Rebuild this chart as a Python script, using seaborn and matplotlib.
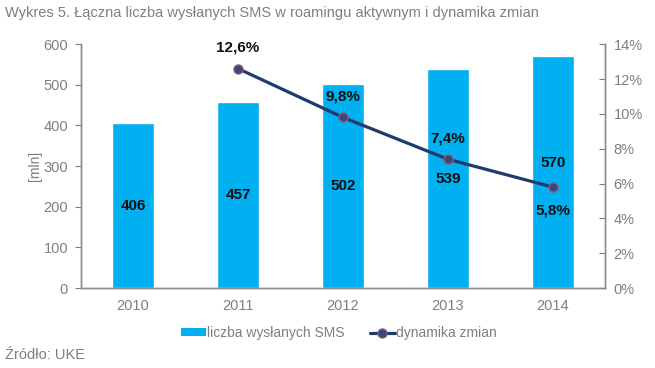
import matplotlib

matplotlib.use("Agg")
import matplotlib.pyplot as plt
import seaborn as sns
from matplotlib.lines import Line2D
from matplotlib.patches import Patch
from matplotlib.ticker import FuncFormatter, MultipleLocator

# dane z wykresu
years = ["2010", "2011", "2012", "2013", "2014"]
sms_mln = [406, 457, 502, 539, 570]
dyn_years = ["2011", "2012", "2013", "2014"]
dyn_pct = [12.6, 9.8, 7.4, 5.8]

BAR = "#00B0F0"
LINE = "#1F3A6E"
GREY = "#7F7F7F"

sns.set_style("white")
plt.rcParams["font.family"] = ["Liberation Sans", "DejaVu Sans"]

fig = plt.figure(figsize=(6.55, 3.68), dpi=100)
ax = fig.add_axes([0.123, 0.217, 0.801, 0.663])

sns.barplot(x=years, y=sms_mln, color=BAR, width=0.4, saturation=1, ax=ax)
ax.set_ylim(0, 600)
ax.set_xlim(-0.5, 4.5)
ax.yaxis.set_major_locator(MultipleLocator(100))
ax.set_ylabel("[mln]", color=GREY, fontsize=10, labelpad=1)
ax.set_xlabel("")

ax2 = ax.twinx()
xpos = [years.index(y) for y in dyn_years]
sns.lineplot(x=xpos, y=dyn_pct, color=LINE, linewidth=2.3, ax=ax2, zorder=3)
ax2.plot(xpos, dyn_pct, linestyle="none", marker="o", markersize=6.5,
         markerfacecolor="#2F4B80", markeredgecolor="#A0506A", markeredgewidth=1.0, zorder=4)
ax2.set_ylim(0, 14)
ax2.set_xlim(-0.5, 4.5)
ax2.yaxis.set_major_locator(MultipleLocator(2))
ax2.yaxis.set_major_formatter(FuncFormatter(lambda v, _: f"{v:.0f}%"))

for a in (ax, ax2):
    a.spines["top"].set_visible(False)
    for s in ("left", "right", "bottom"):
        a.spines[s].set_color("#8C8C8C")
        a.spines[s].set_linewidth(1.0)
    a.tick_params(colors=GREY, labelsize=10.5, length=4, width=0.8, labelcolor=GREY)

ax.tick_params(axis="y", direction="out", pad=5)
ax2.tick_params(axis="y", direction="in", pad=6)
ax.set_xticks([i for i in range(len(years))])
ax.set_xticklabels(years)
ax.tick_params(axis="x", length=0, pad=8)
# ticks on category boundaries
ax.set_xticks([i + 0.5 for i in range(-1, len(years))], minor=True)
ax.tick_params(axis="x", which="minor", length=4, color="#8C8C8C", direction="out")

# etykiety słupków
for i, v in enumerate(sms_mln):
    y = v / 2 + (22 if v == max(sms_mln) else 0)
    ax.text(i, y, f"{v}", ha="center", va="center", fontsize=11, fontweight="bold", color="#111111")

# etykiety linii
for x, v in zip(xpos, dyn_pct):
    below = v == dyn_pct[-1]
    off = -1.35 if below else 1.2
    ax2.text(x, v + off, f"{v:.1f}%".replace(".", ","), ha="center", va="center",
             fontsize=11, fontweight="bold", color="#111111", zorder=5)

fig.text(0.008, 0.965, "Wykres 5. Łączna liczba wysłanych SMS w roamingu aktywnym i dynamika zmian",
         color=GREY, fontsize=10.5, ha="left", va="center")
fig.text(0.008, 0.035, "Źródło: UKE", color=GREY, fontsize=10.5, ha="left", va="center")

handles = [
    Patch(facecolor=BAR, edgecolor="none"),
    Line2D([0], [0], color=LINE, linewidth=2.3, marker="o", markersize=6.5,
           markerfacecolor="#2F4B80", markeredgecolor="#A0506A"),
]
leg = fig.legend(handles, ["liczba wysłanych SMS", "dynamika zmian"], loc="center",
                 bbox_to_anchor=(0.517, 0.095), ncol=2, frameon=False, fontsize=10,
                 handlelength=1.8, handleheight=0.5, handletextpad=0.1, columnspacing=1.8)
for t in leg.get_texts():
    t.set_color(GREY)

fig.savefig("out.png", dpi=100)
